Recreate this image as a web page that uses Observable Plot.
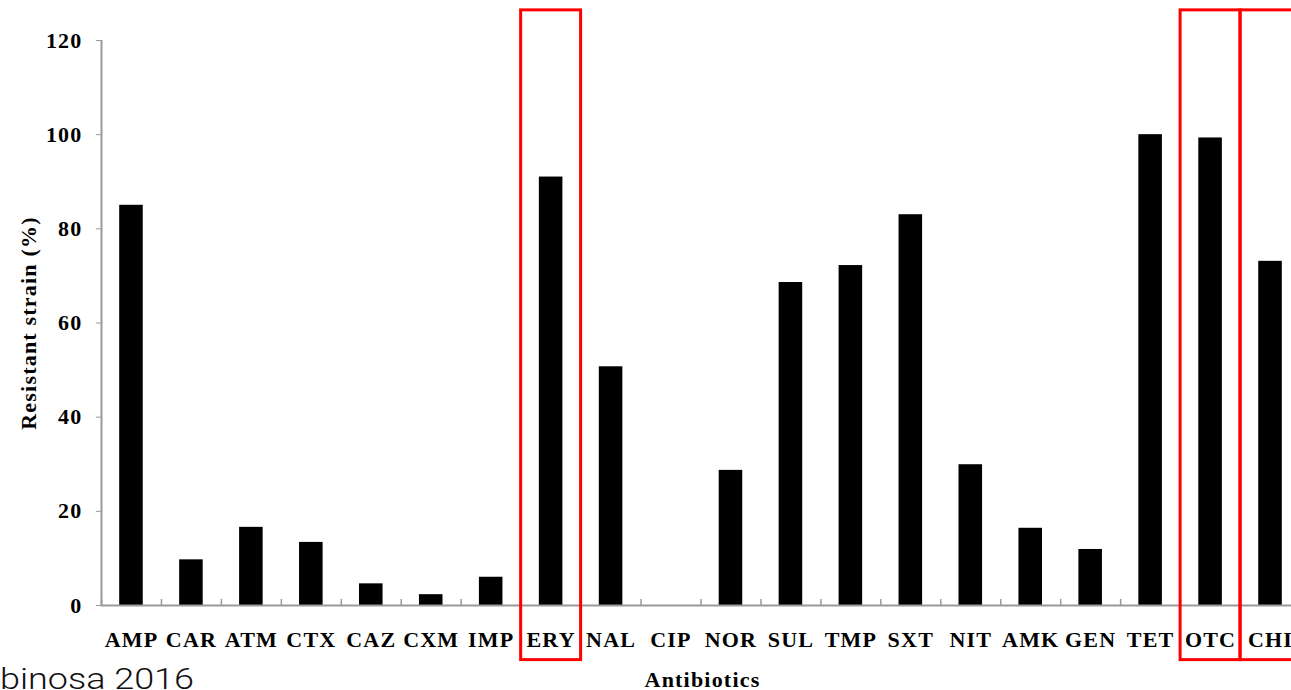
<!DOCTYPE html>
<html><head><meta charset="utf-8">
<script src="https://cdn.jsdelivr.net/npm/d3@7"></script>
<script src="https://cdn.jsdelivr.net/npm/@observablehq/plot@0.6"></script>
<style>
html,body{margin:0;padding:0;background:#fff;overflow:hidden;width:1291px;height:690px}
#wrap{position:relative;width:1291px;height:690px}
#chart svg{display:block}
#caption{position:absolute;left:0;top:665px;font-family:Roboto,"Liberation Sans",sans-serif;font-weight:300;font-size:29px;line-height:29px;color:#111;transform:scaleX(1.24);transform-origin:0 0;white-space:nowrap}
</style></head><body>
<div id="wrap"><div id="chart"></div><div id="caption">binosa 2016</div></div>
<script>
const antibiotics = ["AMP","CAR","ATM","CTX","CAZ","CXM","IMP","ERY","NAL","CIP","NOR","SUL","TMP","SXT","NIT","AMK","GEN","TET","OTC","CHI"];
const resistant = [85.0, 9.7, 16.6, 13.4, 4.6, 2.3, 6.0, 91.0, 50.7, 0, 28.7, 68.6, 72.2, 83.0, 29.9, 16.4, 11.9, 100.0, 99.3, 73.1];
const yTicks = [0, 20, 40, 60, 80, 100, 120];
const highlighted = ["ERY", "OTC", "CHI"];
const highlightSpan = [-11.6, 126.4];
const xLabel = "Antibiotics";
const yLabel = "Resistant strain (%)";

const data = antibiotics.map((name, i) => ({name, value: resistant[i]}));
const W = 1291, H = 690, mLeft = 101, mTop = 40, mBottom = 85;
const xRange = [mLeft, 1300];
const step = (xRange[1] - xRange[0]) / antibiotics.length;
const serif = '"Liberation Serif","Times New Roman",serif';
const axisGray = "#9a9a9a";
const fs = 22;

const chart = Plot.plot({
  width: W, height: H,
  marginLeft: mLeft, marginRight: 0, marginTop: mTop, marginBottom: mBottom,
  style: `font-family:${serif};font-weight:bold;font-size:${fs}px;letter-spacing:1.2px;background:#fff;color:#000;overflow:hidden;`,
  x: {type: "band", domain: antibiotics, range: xRange, padding: 0, round: false},
  y: {domain: [0, 120]},
  marks: [
    Plot.barY(data, {x: "name", y: "value", fill: "#000", insetLeft: 18.2, insetRight: 18.2}),
    Plot.ruleX(antibiotics, {x: d => d, y1: 0, y2: 1.3, dx: -step / 2, stroke: axisGray, strokeWidth: 1.5}),
    Plot.ruleX([antibiotics[0]], {x: d => d, y1: 0, y2: 120, dx: -step / 2, stroke: axisGray, strokeWidth: 2}),
    Plot.ruleY([0], {stroke: axisGray, strokeWidth: 2}),
    Plot.axisY({ticks: yTicks, tickSize: 5, tickPadding: 14, stroke: axisGray, fill: "#000", fontSize: fs, fontWeight: "bold", fontFamily: serif, label: null}),
    Plot.axisX({tickSize: 0, tickPadding: 26, fontSize: fs, fontWeight: "bold", fontFamily: serif, fill: "#000", label: null}),
    Plot.text([xLabel], {text: d => d, frameAnchor: "bottom", dx: 6, dy: 81, lineAnchor: "bottom", fontSize: fs, fontWeight: "bold", fontFamily: serif, fill: "#000"}),
    Plot.text([yLabel], {text: d => d, frameAnchor: "left", textAnchor: "middle", rotate: -90, dx: -73, fontSize: fs, fontWeight: "bold", fontFamily: serif, fill: "#000"}),
    Plot.barY(highlighted, {x: d => d, y1: highlightSpan[0], y2: highlightSpan[1], fill: "none", stroke: "#ff0000", strokeWidth: 3})
  ]
});
document.getElementById("chart").appendChild(chart);
</script>
</body></html>
